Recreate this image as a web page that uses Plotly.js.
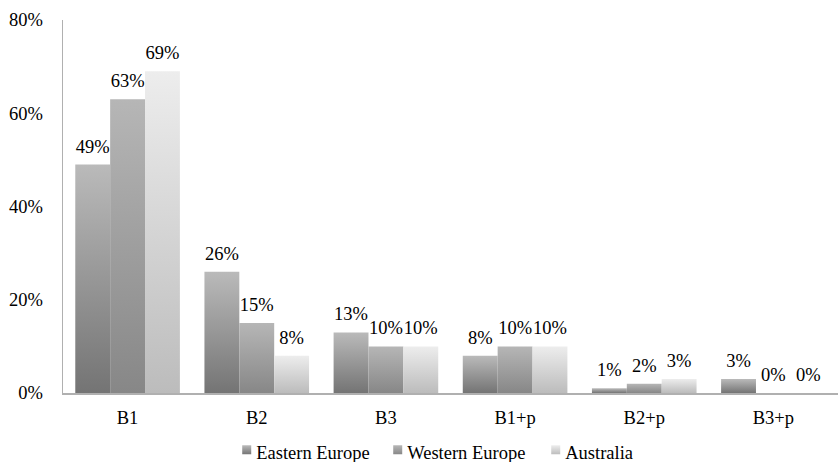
<!DOCTYPE html>
<html>
<head>
<meta charset="utf-8">
<script src="https://cdn.plot.ly/plotly-3.0.1.min.js"></script>
<style>
html,body{margin:0;padding:0;background:#fff;}
#chart{width:838px;height:462px;}
</style>
</head>
<body>
<div id="chart"></div>
<script>
const categories = ["B1", "B2", "B3", "B1+p", "B2+p", "B3+p"];
const easternEurope = [49, 26, 13, 8, 1, 3];
const westernEurope = [63, 15, 10, 10, 2, 0];
const australia = [69, 8, 10, 10, 3, 0];
const seriesNames = ["Eastern Europe", "Western Europe", "Australia"];
const yTickVals = [0, 20, 40, 60, 80];
const yTickText = ["0%", "20%", "40%", "60%", "80%"];

const solid = ["#8c8c8c", "#9c9c9c", "#d0d0d0"];
const grads = [
  ["#bababa", "#747474"],
  ["#b6b6b6", "#878787"],
  ["#ededed", "#bcbcbc"]
];
const legendWidths = [106, 113, 70];

const FAMILY = "Liberation Serif, Times New Roman, serif";
const FS = 18.5;
function F() { return {family: FAMILY, size: FS, color: "#000"}; }

function mk(name, vals, i) {
  return {
    type: "bar", name: name, x: categories, y: vals,
    marker: {color: solid[i], line: {width: 0}},
    text: vals.map(v => v + "%"), textposition: "outside",
    textfont: F(), constraintext: "none", cliponaxis: false,
    legendwidth: legendWidths[i],
    hoverinfo: "none"
  };
}

const data = [
  mk(seriesNames[0], easternEurope, 0),
  mk(seriesNames[1], westernEurope, 1),
  mk(seriesNames[2], australia, 2)
];

const layout = {
  width: 838, height: 462,
  margin: {l: 63, r: 0, t: 20, b: 69, autoexpand: false},
  paper_bgcolor: "#fff", plot_bgcolor: "#fff",
  font: F(),
  barmode: "group", bargap: 0.19, bargroupgap: 0,
  showlegend: true,
  legend: {orientation: "h", x: 0.1977, xanchor: "left", yref: "container", y: 0.022, yanchor: "middle",
           bgcolor: "rgba(0,0,0,0)",
           font: F(), itemwidth: 30, tracegroupgap: 0},
  xaxis: {showgrid: false, zeroline: false, showline: true, linecolor: "#b0b0b0", linewidth: 1.5,
          ticks: "", ticklabelstandoff: 7, tickfont: F(), fixedrange: true},
  yaxis: {range: [0, 80], tickvals: yTickVals, ticktext: yTickText, showgrid: false, zeroline: false,
          showline: true, linecolor: "#b0b0b0", linewidth: 1.5, ticks: "", ticklabelstandoff: 15,
          tickfont: F(), fixedrange: true}
};

function applyGradients(gd) {
  const svg = gd.querySelector("svg.main-svg");
  if (!svg) return;
  let defs = svg.querySelector("defs");
  const ns = "http://www.w3.org/2000/svg";
  if (!defs) { defs = document.createElementNS(ns, "defs"); svg.insertBefore(defs, svg.firstChild); }
  grads.forEach((g, i) => {
    const id = "barGrad" + i;
    if (!svg.querySelector("#" + id)) {
      const lg = document.createElementNS(ns, "linearGradient");
      lg.setAttribute("id", id);
      lg.setAttribute("x1", "0"); lg.setAttribute("y1", "0");
      lg.setAttribute("x2", "0"); lg.setAttribute("y2", "1");
      const s1 = document.createElementNS(ns, "stop");
      s1.setAttribute("offset", "0"); s1.setAttribute("stop-color", g[0]);
      const s2 = document.createElementNS(ns, "stop");
      s2.setAttribute("offset", "1"); s2.setAttribute("stop-color", g[1]);
      lg.appendChild(s1); lg.appendChild(s2); defs.appendChild(lg);
    }
  });
  const traces = gd.querySelectorAll(".barlayer .trace");
  traces.forEach((t, i) => {
    t.querySelectorAll(".point path").forEach(p => { p.style.fill = "url(#barGrad" + i + ")"; });
    t.querySelectorAll("text.bartext").forEach(tx => {
      if (!tx.dataset.shifted) {
        const tr = tx.getAttribute("transform") || "";
        tx.setAttribute("transform", "translate(0,-5) " + tr);
        tx.dataset.shifted = "1";
      }
    });
  });
  const legendTraces = gd.querySelectorAll(".legend .traces");
  legendTraces.forEach((t, i) => {
    t.querySelectorAll(".legendpoints path").forEach(p => {
      p.style.fill = "url(#barGrad" + i + ")";
      p.setAttribute("d", "M6,-6H15V3H6Z");
    });
  });
}

const gd = document.getElementById("chart");
Plotly.newPlot(gd, data, layout, {displayModeBar: false, staticPlot: true}).then(() => {
  applyGradients(gd);
  gd.on("plotly_afterplot", () => applyGradients(gd));
});
</script>
</body>
</html>
